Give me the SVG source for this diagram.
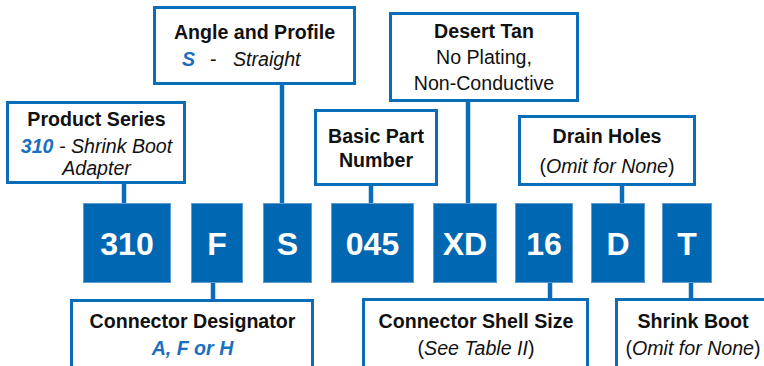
<svg xmlns="http://www.w3.org/2000/svg" width="764" height="366" viewBox="0 0 764 366">
<style>
.lbl{fill:#fff;stroke:#0A6DB9;stroke-width:3}
.code{fill:#0068B3;stroke:#5E9BD3;stroke-width:1}
.ct{font-family:"Liberation Sans",Arial,sans-serif;font-weight:bold;font-size:32px;fill:#fff;text-anchor:middle}
.t{font-family:"Liberation Sans",Arial,sans-serif;font-size:19.6px;fill:#111;text-anchor:middle}
.b{font-weight:bold}
.i{font-style:italic}
.blue{fill:#1A6FBF;font-weight:bold;font-style:italic}
.conn line{stroke:#0A6DB9;stroke-width:4.5}
</style>
<rect width="764" height="366" fill="#fff"/>
<g class="conn">
<line x1="124" y1="183" x2="124" y2="204"/>
<line x1="282" y1="84" x2="282" y2="204"/>
<line x1="371" y1="185" x2="371" y2="204"/>
<line x1="468" y1="101" x2="468" y2="204"/>
<line x1="622" y1="185" x2="622" y2="204"/>
<line x1="213" y1="282" x2="213" y2="300"/>
<line x1="550" y1="282" x2="550" y2="299"/>
<line x1="691" y1="282" x2="691" y2="299"/>
</g>
<g id="product-series">
<rect class="lbl" x="7.5" y="102.5" width="177" height="80"/>
<text class="t b" x="96.5" y="126">Product Series</text>
<text class="t i" x="96.5" y="153"><tspan class="blue">310</tspan> - Shrink Boot</text>
<text class="t i" x="96.5" y="175">Adapter</text>
</g>
<g id="angle-profile">
<rect class="lbl" x="154.5" y="7.5" width="200" height="76"/>
<text class="t b" x="254.5" y="39">Angle and Profile</text>
<text class="t blue" x="182" y="66" style="text-anchor:start">S</text>
<text class="t" x="210" y="66" style="text-anchor:start">-</text>
<text class="t i" x="233" y="66" style="text-anchor:start">Straight</text>
</g>
<g id="desert-tan">
<rect class="lbl" x="390.5" y="13.5" width="187" height="87"/>
<text class="t b" x="484" y="38">Desert Tan</text>
<text class="t" x="484" y="63.5">No Plating,</text>
<text class="t" x="484" y="90">Non-Conductive</text>
</g>
<g id="basic-part">
<rect class="lbl" x="315.5" y="110.5" width="121" height="74"/>
<text class="t b" x="376" y="143">Basic Part</text>
<text class="t b" x="376" y="167">Number</text>
</g>
<g id="drain-holes">
<rect class="lbl" x="519.5" y="116.5" width="175" height="68"/>
<text class="t b" x="607" y="143">Drain Holes</text>
<text class="t" x="607" y="173">(<tspan class="i">Omit for None</tspan>)</text>
</g>
<g id="code-310"><rect class="code" x="83.5" y="203.5" width="87" height="79"/><text class="ct" x="127" y="255">310</text></g>
<g id="code-F"><rect class="code" x="191.5" y="203.5" width="51" height="79"/><text class="ct" x="217" y="255">F</text></g>
<g id="code-S"><rect class="code" x="263.5" y="203.5" width="48" height="79"/><text class="ct" x="287.5" y="255">S</text></g>
<g id="code-045"><rect class="code" x="331.5" y="203.5" width="82" height="79"/><text class="ct" x="372.5" y="255">045</text></g>
<g id="code-XD"><rect class="code" x="433.5" y="203.5" width="63" height="79"/><text class="ct" x="465" y="255">XD</text></g>
<g id="code-16"><rect class="code" x="515.5" y="203.5" width="57" height="79"/><text class="ct" x="544" y="255">16</text></g>
<g id="code-D"><rect class="code" x="591.5" y="203.5" width="53" height="79"/><text class="ct" x="618" y="255">D</text></g>
<g id="code-T"><rect class="code" x="662.5" y="203.5" width="49" height="79"/><text class="ct" x="687" y="255">T</text></g>
<g id="connector-designator">
<rect class="lbl" x="71.5" y="300.5" width="241" height="80"/>
<text class="t b" x="192.5" y="328">Connector Designator</text>
<text class="t blue" x="192.5" y="355">A, F or H</text>
</g>
<g id="shell-size">
<rect class="lbl" x="363.5" y="299.5" width="224" height="80"/>
<text class="t b" x="476" y="328">Connector Shell Size</text>
<text class="t" x="476" y="355">(<tspan class="i">See Table II</tspan>)</text>
</g>
<g id="shrink-boot">
<rect class="lbl" x="616.5" y="299.5" width="154" height="80"/>
<text class="t b" x="693" y="328">Shrink Boot</text>
<text class="t" x="693" y="355">(<tspan class="i">Omit for None</tspan>)</text>
</g>
</svg>
